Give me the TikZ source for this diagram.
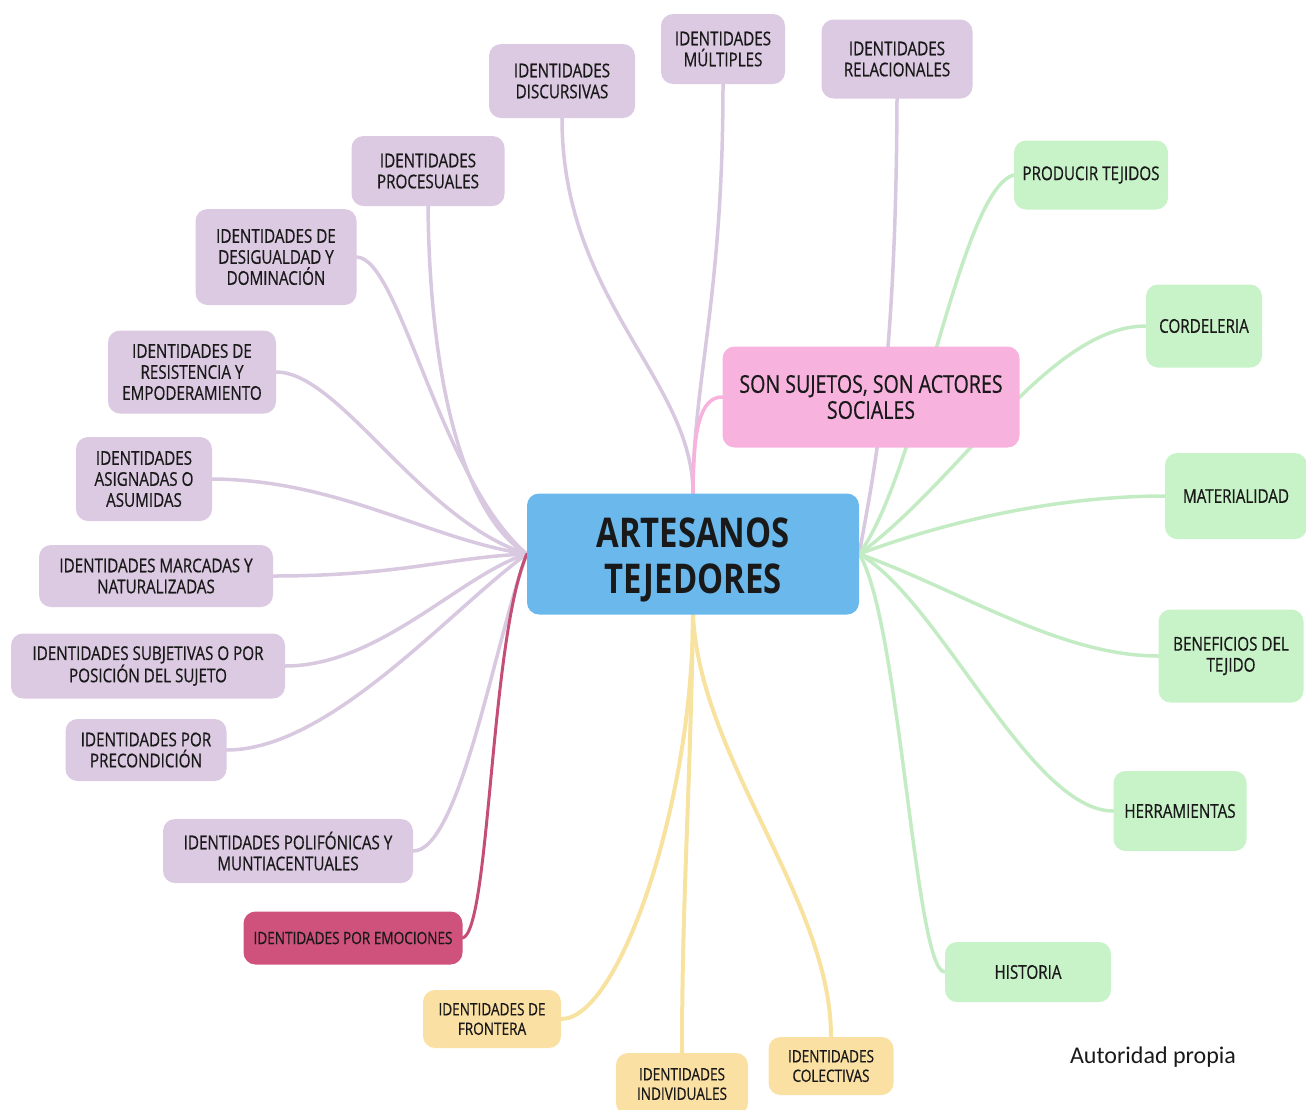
\documentclass[tikz,border=0pt]{standalone}
\usepackage{fontspec}
\usetikzlibrary{backgrounds}
\newfontfamily\lab[FakeStretch=0.8,FakeBold=0.6]{Open Sans}
\newfontfamily\labb[FakeStretch=0.8]{Open Sans}
\newfontfamily\carlitofont{Carlito}
\definecolor{cblue}{RGB}{106,184,236}
\definecolor{cpink}{RGB}{247,178,222}
\definecolor{cpurp}{RGB}{220,202,226}
\definecolor{lpurp}{RGB}{216,200,224}
\definecolor{cemo}{RGB}{206,82,124}
\definecolor{lemo}{RGB}{196,78,118}
\definecolor{cyel}{RGB}{251,224,164}
\definecolor{lyel}{RGB}{248,226,160}
\definecolor{cgreen}{RGB}{200,242,200}
\definecolor{lgreen}{RGB}{196,236,196}
\definecolor{ctext}{RGB}{25,25,25}
\tikzset{
  box/.style={rounded corners=12pt, align=center, inner sep=0pt, text=ctext,
    font=\lab\fontsize{19}{21}\selectfont},
  pbox/.style={box, fill=cpurp},
  ybox/.style={box, fill=cyel, font=\lab\fontsize{17}{19.5}\selectfont},
  gbox/.style={box, fill=cgreen},
  pline/.style={draw=lpurp, line width=3.5pt, line cap=round},
  yline/.style={draw=lyel, line width=4pt, line cap=round},
  gline/.style={draw=lgreen, line width=3.5pt, line cap=round},
}
\begin{document}
\begin{tikzpicture}[x=1pt,y=-1pt]
\useasboundingbox (0,0) rectangle (1306,1109);

% --- nodes ---
\node[box, fill=cblue, minimum width=332pt, minimum height=121pt,
  font=\labb\bfseries\fontsize{41}{46}\selectfont] (center) at (693,554) {\rule{0pt}{41pt}ARTESANOS\\TEJEDORES};
\node[box, fill=cpink, minimum width=297pt, minimum height=101pt,
  font=\lab\fontsize{24.5}{26}\selectfont] (son) at (871,397) {SON SUJETOS, SON ACTORES\\SOCIALES};

\node[pbox, minimum width=146pt, minimum height=74pt] (disc) at (562,81) {IDENTIDADES\\DISCURSIVAS};
\node[pbox, minimum width=124pt, minimum height=70pt] (mult) at (723,49) {IDENTIDADES\\MÚLTIPLES};
\node[pbox, minimum width=151pt, minimum height=79pt] (rel) at (897,59) {IDENTIDADES\\RELACIONALES};
\node[pbox, minimum width=153pt, minimum height=70pt] (proc) at (428,171) {IDENTIDADES\\PROCESUALES};
\node[pbox, minimum width=161pt, minimum height=96pt] (desig) at (276,257) {IDENTIDADES DE\\DESIGUALDAD Y\\DOMINACIÓN};
\node[pbox, minimum width=168pt, minimum height=83pt] (resis) at (192,372) {IDENTIDADES DE\\RESISTENCIA Y\\EMPODERAMIENTO};
\node[pbox, minimum width=136pt, minimum height=84pt] (asig) at (144,479) {IDENTIDADES\\ASIGNADAS O\\ASUMIDAS};
\node[pbox, minimum width=234pt, minimum height=62pt] (marc) at (156,576) {IDENTIDADES MARCADAS Y\\NATURALIZADAS};
\node[pbox, minimum width=274pt, minimum height=65pt] (subj) at (148,666) {IDENTIDADES SUBJETIVAS O POR\\POSICIÓN DEL SUJETO};
\node[pbox, minimum width=161pt, minimum height=62pt] (prec) at (146,750) {IDENTIDADES POR\\PRECONDICIÓN};
\node[pbox, minimum width=250pt, minimum height=64pt] (poli) at (288,851) {IDENTIDADES POLIFÓNICAS Y\\MUNTIACENTUALES};
\node[box, fill=cemo, minimum width=219pt, minimum height=53pt,
  font=\lab\fontsize{17}{19}\selectfont] (emo) at (353,938) {IDENTIDADES POR EMOCIONES};

\node[ybox, minimum width=138pt, minimum height=58pt] (front) at (492,1019) {IDENTIDADES DE\\FRONTERA};
\node[ybox, minimum width=132pt, minimum height=62pt] (indiv) at (682,1084) {IDENTIDADES\\INDIVIDUALES};
\node[ybox, minimum width=125pt, minimum height=58pt] (colec) at (831,1066) {IDENTIDADES\\COLECTIVAS};

\node[gbox, minimum width=154pt, minimum height=69pt] (prod) at (1091,175) {PRODUCIR TEJIDOS};
\node[gbox, minimum width=116pt, minimum height=83pt] (cord) at (1204,326) {CORDELERIA};
\node[gbox, minimum width=142pt, minimum height=86pt] (mat) at (1236,496) {MATERIALIDAD};
\node[gbox, minimum width=145pt, minimum height=93pt] (benef) at (1231,656) {BENEFICIOS DEL\\TEJIDO};
\node[gbox, minimum width=133pt, minimum height=80pt] (herr) at (1180,811) {HERRAMIENTAS};
\node[gbox, minimum width=166pt, minimum height=60pt] (hist) at (1028,972) {HISTORIA};

\node[font=\carlitofont\fontsize{24}{28}\selectfont, text=ctext, inner sep=0pt] (aut) at (1153,1057) {Autoridad propia};

% --- connectors (behind the boxes) ---
\begin{pgfonlayer}{background}
% purple top
\draw[pline] (disc.south) .. controls (562,300) and (693,380) .. (center.north);
\draw[pline] (mult.south) .. controls (723,300) and (693,380) .. (center.north);
\draw[pline] (rel.south) .. controls (896,380) and (872,480) .. (center.east);
% pink
\draw[draw=cpink, line width=3.5pt, line cap=round] (center.north) .. controls (693,430) and (700,397) .. (son.west);
% purple left
\draw[pline] (proc.south) .. controls (430,400) and (470,520) .. (center.west);
\draw[pline] (desig.east) .. controls (400,258) and (440,480) .. (center.west);
\draw[pline] (resis.east) .. controls (340,372) and (420,520) .. (center.west);
\draw[pline] (asig.east) .. controls (340,480) and (430,540) .. (center.west);
\draw[pline] (marc.east) .. controls (400,576) and (450,557) .. (center.west);
\draw[pline] (subj.east) .. controls (380,666) and (460,575) .. (center.west);
\draw[pline] (prec.east) .. controls (330,750) and (450,610) .. (center.west);
\draw[pline] (poli.east) .. controls (460,851) and (495,640) .. (center.west);
\draw[draw=lemo, line width=3pt, line cap=round] (emo.east) .. controls (490,930) and (490,640) .. (center.west);
% yellow
\draw[yline] (center.south) .. controls (693,800) and (620,1019) .. (front.east);
\draw[yline] (center.south) .. controls (690,800) and (682,900) .. (indiv.north);
\draw[yline] (center.south) .. controls (700,760) and (831,900) .. (colec.north);
% green
\draw[gline] (center.east) .. controls (920,470) and (960,190) .. (prod.west);
\draw[gline] (center.east) .. controls (960,480) and (1050,326) .. (cord.west);
\draw[gline] (center.east) .. controls (950,520) and (1060,496) .. (mat.west);
\draw[gline] (center.east) .. controls (960,590) and (1060,656) .. (benef.west);
\draw[gline] (center.east) .. controls (940,600) and (1030,811) .. (herr.west);
\draw[gline] (center.east) .. controls (900,620) and (915,972) .. (hist.west);
\end{pgfonlayer}
\end{tikzpicture}
\end{document}
